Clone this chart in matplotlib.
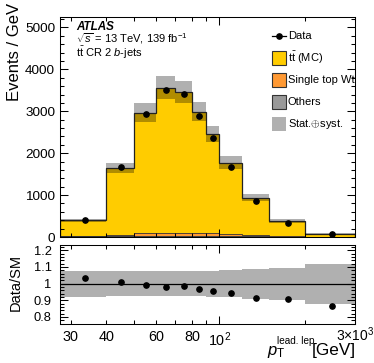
import numpy as np
import matplotlib
matplotlib.use("Agg")
import matplotlib.pyplot as plt
from matplotlib.patches import Rectangle
from matplotlib.lines import Line2D
from matplotlib.ticker import FixedLocator, FixedFormatter, MultipleLocator

plt.rcParams['font.family'] = ['Liberation Sans', 'DejaVu Sans']
plt.rcParams['mathtext.fontset'] = 'custom'
plt.rcParams['mathtext.rm'] = 'Liberation Sans'
plt.rcParams['mathtext.it'] = 'Liberation Sans:italic'
plt.rcParams['mathtext.bf'] = 'Liberation Sans:bold'

# bin edges of leading lepton pT [GeV]
edges = [27.5, 40, 50, 60, 70, 80, 90, 100, 120, 150, 200, 300]

# events / GeV
data = [408, 1663, 2935, 3501, 3410, 2881, 2363, 1680, 861, 346, 65]
others = [12, 20, 25, 28, 27, 25, 22, 18, 12, 6, 2]
single_top = [10, 35, 60, 72, 75, 70, 62, 48, 28, 12, 3]
total_mc = [395, 1647, 2969, 3565, 3453, 2983, 2468, 1776, 940, 382, 75]
# relative stat+syst uncertainty
rel_unc = [0.078, 0.075, 0.074, 0.075, 0.075, 0.076, 0.078, 0.083, 0.09, 0.096, 0.12]

labels = [r'Data', r'$\mathrm{t\bar{t}}$ (MC)', 'Single top Wt', 'Others', r'Stat.$\oplus$syst.']

c_tt = '#FFCC00'
c_st = '#FF9933'
c_oth = '#999999'
c_band = '#B0B0B0'

W, H = 374, 363
fig = plt.figure(figsize=(W / 100, H / 100), dpi=100)


def fx(x):
    return x / W


def fy(y):
    return 1 - y / H


ax = fig.add_axes([fx(60), fy(237), fx(355) - fx(60), fy(17) - fy(237)])
axr = fig.add_axes([fx(60), fy(323.5), fx(355) - fx(60), fy(244.5) - fy(323.5)])

edges = np.array(edges)
data = np.array(data, dtype=float)
others = np.array(others, dtype=float)
single_top = np.array(single_top, dtype=float)
total_mc = np.array(total_mc, dtype=float)
rel_unc = np.array(rel_unc)
centers = 0.5 * (edges[1:] + edges[:-1])

# stack
lvl1 = others
lvl2 = others + single_top
ax.stairs(total_mc, edges, baseline=lvl2, fill=True, facecolor=c_tt, edgecolor='none')
ax.stairs(lvl2, edges, baseline=lvl1, fill=True, facecolor=c_st, edgecolor='none')
ax.stairs(lvl1, edges, baseline=0, fill=True, facecolor=c_oth, edgecolor='none')
for lv in (lvl1, lvl2):
    ax.stairs(lv, edges, color='#333333', lw=0.6)
ax.stairs(total_mc * (1 + rel_unc), edges, baseline=total_mc * (1 - rel_unc),
          fill=True, facecolor='k', alpha=0.31, edgecolor='none')
ax.stairs(total_mc, edges, baseline=0, color='#222222', lw=0.9)
ax.plot(centers, data, 'o', color='k', ms=3.8, zorder=5)

ax.set_xscale('log')
ax.set_xlim(edges[0], edges[-1])
ax.set_ylim(0, 5250)
ax.set_yticks([0, 1000, 2000, 3000, 4000, 5000])
ax.set_yticklabels(['0', '1000', '2000', '3000', '4000', '5000'])
ax.yaxis.set_minor_locator(MultipleLocator(200))

# ratio
ratio = data / total_mc
axr.stairs(1 + rel_unc, edges, baseline=1 - rel_unc, fill=True,
           facecolor='k', alpha=0.31, edgecolor='none')
axr.axhline(1, color='k', lw=0.9)
axr.plot(centers, ratio, 'o', color='k', ms=3.8, zorder=5)
axr.set_xscale('log')
axr.set_xlim(edges[0], edges[-1])
axr.set_ylim(0.76, 1.235)
axr.set_yticks([0.8, 0.9, 1.0, 1.1, 1.2])
axr.set_yticklabels(['0.8', '0.9', '1', '1.1', '1.2'])
axr.yaxis.set_minor_locator(MultipleLocator(0.02))

minor_x = [30, 40, 50, 60, 70, 80, 90, 200, 300]
minor_lbl = ['30', '40', '', '60', '', '80', '', '', '']
for a in (ax, axr):
    a.xaxis.set_major_locator(FixedLocator([100]))
    a.xaxis.set_minor_locator(FixedLocator(minor_x))
    a.tick_params(which='both', direction='in', top=True, right=True, width=0.75)
    a.tick_params(which='major', length=6)
    a.tick_params(which='minor', length=3.2)
    for s in a.spines.values():
        s.set_linewidth(0.75)

ax.tick_params(axis='x', which='both', labelbottom=False)
ax.tick_params(axis='y', labelsize=9.7, pad=3.5)
axr.xaxis.set_major_formatter(FixedFormatter([r'$10^2$']))
axr.xaxis.set_minor_formatter(FixedFormatter(minor_lbl))
axr.tick_params(axis='x', which='both', labelsize=10.4, pad=5)
axr.tick_params(axis='y', labelsize=9.3, pad=6)

# axis titles
fig.text(fx(15), fy(3), 'Events / GeV', rotation=90, fontsize=12, ha='center', va='top')
fig.text(fx(16), fy(282), 'Data/SM', rotation=90, fontsize=10.5, ha='center', va='center')
fig.text(fx(267), fy(355), r'$p_{\mathrm{T}}$', fontsize=12, ha='left', va='baseline')
fig.text(fx(277), fy(343.5), 'lead. lep.', fontsize=7.2, ha='left', va='baseline')
fig.text(fx(356), fy(355.5), '[GeV]', fontsize=12.3, ha='right', va='baseline')
fig.text(fx(374), fy(341.5), r'3$\times$10$^3$', fontsize=10, ha='right', va='baseline')

# ATLAS label
fig.text(fx(76), fy(27), 'ATLAS', fontsize=8.4, weight='bold', style='italic', va='center')
fig.text(fx(76), fy(39), r'$\sqrt{s}$ = 13 TeV, 139 fb$^{-1}$', fontsize=8, va='center')
fig.text(fx(76), fy(53), r'$\mathrm{t\bar{t}}$ CR 2 $b$-jets', fontsize=8, va='center')

# legend
rows = [36, 58, 80, 102, 124]
bx0, bx1 = 272, 286
fig.add_artist(Line2D([fx(bx0), fx(bx1)], [fy(rows[0]), fy(rows[0])], color='k', lw=0.9,
                      transform=fig.transFigure))
fig.add_artist(Line2D([fx(279)], [fy(rows[0])], color='k', marker='o', ms=3.8,
                      transform=fig.transFigure))
box_styles = [(c_tt, '#333333'), (c_st, '#333333'), (c_oth, '#333333'), (c_band, 'none')]
for r, (fc, ec) in zip(rows[1:], box_styles):
    fig.add_artist(Rectangle((fx(bx0), fy(r + 7)), fx(bx1) - fx(bx0), fy(r - 7) - fy(r + 7),
                             facecolor=fc, edgecolor=ec, lw=0.8, transform=fig.transFigure))
for r, lb in zip(rows, labels):
    fig.text(fx(288), fy(r), lb, fontsize=8, va='center')

fig.savefig('out.png', dpi=100)
